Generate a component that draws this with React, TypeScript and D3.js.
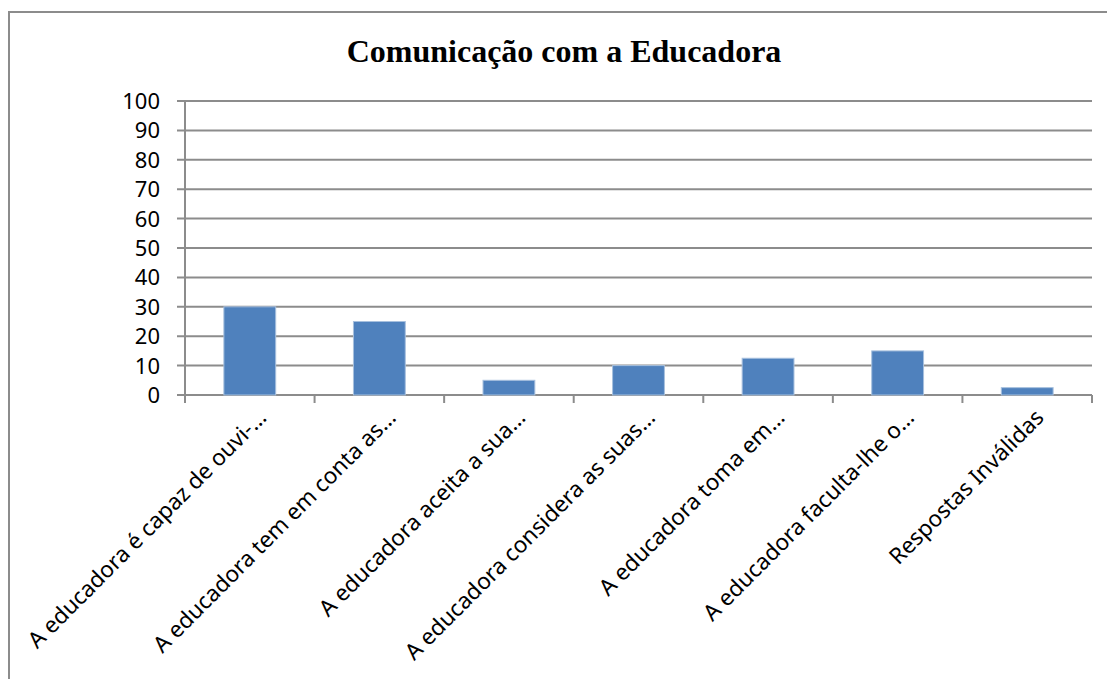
import React, { useEffect, useRef } from 'react'
import * as d3 from 'd3'

const title = 'Comunicação com a Educadora'
const categories = [
  'A educadora é capaz de ouvi-…',
  'A educadora tem em conta as…',
  'A educadora aceita a sua…',
  'A educadora considera as suas…',
  'A educadora toma em…',
  'A educadora faculta-lhe o…',
  'Respostas Inválidas',
]
const values = [30, 25, 5, 10, 12.5, 15, 2.5]
const yTicks = [0, 10, 20, 30, 40, 50, 60, 70, 80, 90, 100]

const W = 1107
const H = 679

export default function App() {
  const ref = useRef<SVGSVGElement>(null)

  useEffect(() => {
    const svg = d3.select(ref.current)
    svg.selectAll('*').remove()

    const left = 185
    const right = 1092
    const top = 101
    const bottom = 395

    // outer frame, runs off the right and bottom edges
    svg.append('rect')
      .attr('x', 9).attr('y', 12)
      .attr('width', W + 20).attr('height', H + 20)
      .attr('fill', 'none')
      .attr('stroke', '#8c8c8c')
      .attr('stroke-width', 2)

    svg.append('text')
      .attr('x', 564).attr('y', 62)
      .attr('text-anchor', 'middle')
      .attr('font-family', '"Liberation Serif", "Times New Roman", serif')
      .attr('font-weight', 'bold')
      .attr('font-size', 32)
      .text(title)

    const x = d3.scaleBand<string>()
      .domain(categories)
      .range([left, right])
      .padding(0)

    const y = d3.scaleLinear()
      .domain([0, 100])
      .range([bottom, top])

    const g = svg.append('g')

    // gridlines
    g.selectAll('line.grid')
      .data(yTicks)
      .enter()
      .append('line')
      .attr('class', 'grid')
      .attr('x1', left - 8).attr('x2', right)
      .attr('y1', d => y(d)).attr('y2', d => y(d))
      .attr('stroke', '#8c8c8c')
      .attr('stroke-width', 2)

    // y axis line
    g.append('line')
      .attr('x1', left).attr('x2', left)
      .attr('y1', top).attr('y2', bottom)
      .attr('stroke', '#8c8c8c')
      .attr('stroke-width', 2)

    g.selectAll('text.ylab')
      .data(yTicks)
      .enter()
      .append('text')
      .attr('class', 'ylab')
      .attr('x', left - 25)
      .attr('y', d => y(d))
      .attr('dy', '0.36em')
      .attr('text-anchor', 'end')
      .attr('font-family', '"Noto Sans", sans-serif')
      .attr('font-size', 22)
      .text(d => d)

    // bars
    const bw = x.bandwidth() * 0.4
    g.selectAll('rect.bar')
      .data(values)
      .enter()
      .append('rect')
      .attr('class', 'bar')
      .attr('x', (d, i) => (x(categories[i]) as number) + (x.bandwidth() - bw) / 2)
      .attr('y', d => y(d))
      .attr('width', bw)
      .attr('height', d => bottom - y(d))
      .attr('fill', '#4f81bd')
      .attr('stroke', '#a7c0de')
      .attr('stroke-width', 1)

    // x axis ticks
    const edges = categories.map(c => x(c) as number).concat([right])
    g.selectAll('line.xtick')
      .data(edges)
      .enter()
      .append('line')
      .attr('class', 'xtick')
      .attr('x1', d => d).attr('x2', d => d)
      .attr('y1', bottom).attr('y2', bottom + 8)
      .attr('stroke', '#8c8c8c')
      .attr('stroke-width', 2)

    g.selectAll('text.xlab')
      .data(categories)
      .enter()
      .append('text')
      .attr('class', 'xlab')
      .attr('transform', d => `translate(${(x(d) as number) + x.bandwidth() / 2 + 18},${bottom + 24}) rotate(-45)`)
      .attr('text-anchor', 'end')
      .attr('font-family', '"Noto Sans", sans-serif')
      .attr('font-size', 22.5)
      .text(d => d)
  }, [])

  return (
    <svg ref={ref} width={W} height={H}
      style={{ position: 'absolute', left: 0, top: 0, background: '#fff' }} />
  )
}
